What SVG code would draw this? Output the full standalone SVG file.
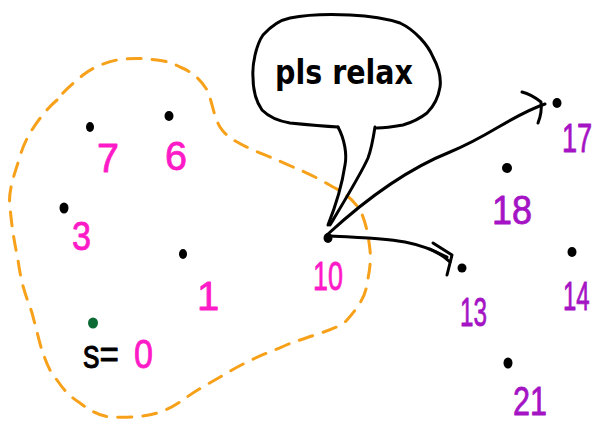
<svg xmlns="http://www.w3.org/2000/svg" width="593" height="428" viewBox="0 0 593 428">
<style>
.ink{fill:none;stroke:#000;stroke-width:3;stroke-linecap:round;stroke-linejoin:round}
.blob{fill:none;stroke:#F7A11A;stroke-width:3;stroke-linecap:round;stroke-dasharray:14 11}
.dot{fill:#000}
.lbl{font-family:"Liberation Sans",Arial,sans-serif;font-size:40px;text-anchor:start;stroke-width:0.8;stroke-linejoin:round}
.pink{fill:#FF1AC8;stroke:#FF1AC8}
.purple{fill:#A514C4;stroke:#A514C4}
</style>
<rect width="593" height="428" fill="#fff"/>
<g id="region">
<path class="blob" d="M57,100 C45,110 25,135 20,157 C12,180 8,195 10,207 C12,230 15,245 18,260 C22,290 28,300 32,313 C38,335 40,345 42,350 C48,368 52,375 57,380 C65,392 72,398 80,403 C92,412 100,416 110,417 C130,418 150,416 160,412 C172,408 180,402 187,397 C200,388 215,380 227,373 C240,365 255,358 267,353 C280,348 290,343 300,340 C320,333 340,328 347,320 C360,305 366,295 367,283 C370,270 371,260 370,250 C368,232 365,220 360,210 C352,198 343,192 333,187 C318,178 305,172 293,167 C278,160 265,155 253,150 C238,143 226,137 220,127 C213,115 212,100 207,90 C200,78 190,71 180,67 C170,62 165,61 157,60 C142,58 130,58 117,60 C103,63 92,68 83,75 C72,84 63,92 57,100 Z"/>
</g>
<g id="connectors">
<path class="ink" d="M338,127 C345,140 347,155 345,165 C342,185 336,205 328,225"/>
<path class="ink" d="M375,127 C373,140 371,150 368,158 C362,172 345,200 330,225"/>
<path class="ink" d="M328,234 C365,200 405,170 450,152 C490,136 512,115 545,104"/>
<path class="ink" d="M522,92 C530,94 536,98 541,102 C542,110 540,118 538,123"/>
<path class="ink" d="M330,236 C355,237 385,238 405,242 C425,246 440,252 450,262"/>
<path class="ink" d="M433,243 L452,255 L447,275"/>
<path class="ink" d="M430,249 L447,257"/>
</g>
<g id="bubble">
<path class="ink" d="M338,127 C320,126 300,124 290,123 C278,121 268,116 262,110 C255,100 253,88 253,77 C252,65 256,45 263,35 C272,25 280,20 290,18 C310,14 330,14 350,15 C370,16 388,19 400,23 C415,30 428,45 433,57 C440,70 441,80 440,87 C438,100 432,108 427,113 C418,120 410,123 403,125 C392,127 385,128 377,128"/>
<text x="275" y="84" font-family="'DejaVu Sans',sans-serif" font-size="34" font-weight="bold" textLength="138" lengthAdjust="spacingAndGlyphs" fill="#000">pls relax</text>
</g>
<g id="n7"><ellipse class="dot" cx="90" cy="127" rx="4" ry="5"/><text class="lbl pink" x="97" y="172" font-size="40" textLength="22" lengthAdjust="spacingAndGlyphs">7</text></g>
<g id="n6"><ellipse class="dot" cx="169" cy="116" rx="4.5" ry="5"/><text class="lbl pink" x="165" y="170" font-size="50" textLength="22" lengthAdjust="spacingAndGlyphs">6</text></g>
<g id="n3"><ellipse class="dot" cx="64" cy="208" rx="4.5" ry="5.5"/><text class="lbl pink" x="72" y="250" font-size="46" textLength="19" lengthAdjust="spacingAndGlyphs">3</text></g>
<g id="n1"><ellipse class="dot" cx="183" cy="254" rx="4" ry="5"/><text class="lbl pink" x="197" y="310" font-size="50" text-anchor="middle">1</text></g>
<g id="n0"><ellipse cx="93" cy="323" rx="5" ry="5.5" fill="#0C6B35"/><text class="lbl" x="83" y="368" fill="#000" stroke="#000" font-size="36" textLength="36" lengthAdjust="spacingAndGlyphs">s=</text><text class="lbl pink" x="134" y="368" font-size="38" textLength="19" lengthAdjust="spacingAndGlyphs">0</text></g>
<g id="n10"><ellipse class="dot" cx="328" cy="238" rx="4.5" ry="5"/><text class="lbl pink" x="313" y="290" font-size="36" textLength="30" lengthAdjust="spacingAndGlyphs">10</text></g>
<g id="n17"><ellipse class="dot" cx="557" cy="103" rx="4.5" ry="5"/><text class="lbl purple" transform="translate(562,152) scale(0.68,1)" x="0" y="0" font-size="38">17</text></g>
<g id="n18"><ellipse class="dot" cx="507" cy="168" rx="5" ry="5"/><text class="lbl purple" x="492" y="224" font-size="56" textLength="40" lengthAdjust="spacingAndGlyphs">18</text></g>
<g id="n13"><ellipse class="dot" cx="462" cy="268" rx="4.5" ry="4.5"/><text class="lbl purple" x="460" y="326" font-size="54" textLength="27" lengthAdjust="spacingAndGlyphs">13</text></g>
<g id="n14"><ellipse class="dot" cx="572" cy="252" rx="4.5" ry="5"/><text class="lbl purple" transform="translate(563,310) scale(0.6,1)" x="0" y="0" font-size="44">14</text></g>
<g id="n21"><ellipse class="dot" cx="508" cy="363" rx="4.5" ry="5.5"/><text class="lbl purple" x="513" y="415" font-size="44" textLength="34" lengthAdjust="spacingAndGlyphs">21</text></g>
</svg>
